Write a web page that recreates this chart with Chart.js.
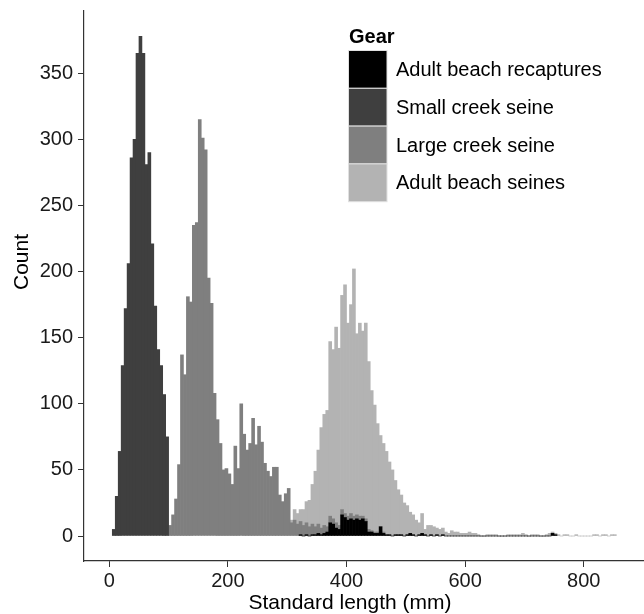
<!DOCTYPE html>
<html>
<head>
<meta charset="utf-8">
<script src="https://cdn.jsdelivr.net/npm/chart.js@4.4.0/dist/chart.umd.min.js"></script>
<style>
  html, body { margin: 0; padding: 0; background: #fff; }
</style>
</head>
<body>
<canvas id="myChart" width="644" height="614"></canvas>
<script>
// histogram bins are 5 mm wide; each series starts at its own bin
const binWidth = 5;

const gearNames = ["Adult beach recaptures", "Small creek seine", "Large creek seine", "Adult beach seines"];
const gearColors = ["#000000", "#3f3f3f", "#7f7f7f", "#b3b3b3"];

const recapturesStart = 320;
const recaptures = [1, 0, 1, 0, 1, 1, 2, 1, 2, 3, 10, 9, 6, 5, 16, 14, 12, 13, 12, 13,
    12, 13, 11, 3, 3, 2, 2, 7, 2, 1, 1, 0, 1, 1, 1, 0, 1, 2, 1, 0,
    1, 2, 1, 0, 1, 0, 1, 0, 1, 0, 0, 0, 0, 0, 0, 0, 0, 0, 0, 0,
    0, 0, 0, 0, 0, 0, 0, 0, 0, 0, 0, 0, 0, 0, 0, 0, 0, 0, 0, 0,
    0, 0, 0, 0, 0, 2, 1];

const smallCreekStart = 5;
const smallCreek = [5, 30, 64, 129, 172, 206, 286, 300, 365, 378, 365, 281, 290, 221, 174, 141, 129, 107, 75];

const largeCreekStart = 100;
const largeCreek = [8, 16, 28, 54, 137, 122, 181, 177, 235, 237, 315, 301, 292, 195, 176, 108, 88, 70, 50, 51,
    47, 39, 68, 51, 100, 77, 65, 70, 89, 69, 83, 71, 55, 49, 45, 52, 52, 31, 26, 32,
    36, 10, 12, 9, 10, 8, 9, 7, 8, 6, 7, 5, 6, 4, 5, 4, 4, 3, 4, 3,
    3, 4, 3, 3, 3, 2, 2, 2, 1, 1, 1, 0, 1];

const adultSeinesStart = 305;
const adultSeines = [2, 8, 8, 9, 12, 16, 20, 30, 42, 56, 76, 84, 88, 132, 128, 148, 134, 162, 173, 146,
    158, 187, 137, 146, 140, 148, 127, 106, 96, 82, 69, 67, 63, 55, 50, 41, 34, 30, 25, 22,
    16, 15, 12, 9, 15, 4, 8, 7, 7, 5, 5, 5, 3, 2, 4, 3, 3, 2, 2, 2,
    3, 2, 2, 1, 0, 0, 1, 1, 1, 1, 0, 0, 0, 1, 1, 1, 1, 1, 2, 1,
    0, 1, 1, 1, 0, 0, 1, 2, 1, 1, 1, 0, 1, 1, 0, 0, 1, 0, 0, 0,
    0, 0, 1, 1, 0, 1, 1, 0, 1, 1];

const xTicks = [0, 200, 400, 600, 800];
const yTicks = [0, 50, 100, 150, 200, 250, 300, 350];

const fontFamily = "'Liberation Sans', Arial, Helvetica, sans-serif";

function toPoints(start, counts) {
    return counts.map((c, i) => ({ x: start + i * binWidth + binWidth / 2, y: c }));
}

const seriesData = [
    toPoints(recapturesStart, recaptures),
    toPoints(smallCreekStart, smallCreek),
    toPoints(largeCreekStart, largeCreek),
    toPoints(adultSeinesStart, adultSeines)
];

// legend box and axis titles sit where ggplot put them
const gearLegend = {
    id: "gearLegend",
    afterDraw(chart) {
        const ctx = chart.ctx;
        ctx.save();
        ctx.fillStyle = "#000";
        ctx.textBaseline = "alphabetic";
        ctx.textAlign = "left";
        ctx.font = "bold 20px " + fontFamily;
        ctx.fillText("Gear", 349, 43);

        const keyX = 348.5, keyW = 38.5, keyH = 37.8, keyTop = 50.5;
        ctx.font = "20px " + fontFamily;
        ctx.textBaseline = "middle";
        chart.data.datasets.forEach((ds, i) => {
            const y = keyTop + i * keyH;
            ctx.fillStyle = ds.backgroundColor;
            ctx.fillRect(keyX, y, keyW, keyH);
            ctx.strokeStyle = "#e0e0e0";
            ctx.lineWidth = 1;
            ctx.strokeRect(keyX, y, keyW, keyH);
            ctx.fillStyle = "#000";
            ctx.fillText(ds.label, 396, y + keyH / 2 + 1);
        });

        ctx.textAlign = "center";
        ctx.textBaseline = "middle";
        ctx.font = "21px " + fontFamily;
        ctx.fillText("Standard length (mm)", 350, 603);

        ctx.translate(22, 262);
        ctx.rotate(-Math.PI / 2);
        ctx.fillText("Count", 0, 0);
        ctx.restore();
    }
};

let chart;

function initChart() {
    const ctx = document.getElementById("myChart").getContext("2d");
    chart = new Chart(ctx, {
        type: "bar",
        data: {
            datasets: gearNames.map((name, i) => ({
                label: name,
                data: seriesData[i],
                backgroundColor: gearColors[i],
                borderWidth: 0,
                barPercentage: 1,
                categoryPercentage: 1
            }))
        },
        options: {
            responsive: false,
            animation: false,
            layout: { padding: { top: 11, left: 0, right: 0, bottom: 0 } },
            plugins: {
                legend: { display: false },
                tooltip: { enabled: false }
            },
            scales: {
                x: {
                    type: "linear",
                    stacked: true,
                    offset: false,
                    min: -42.7,
                    max: 901.7,
                    afterBuildTicks: s => { s.ticks = xTicks.map(v => ({ value: v })); },
                    afterFit: s => { s.height = 53; s.paddingLeft = 0; s.paddingRight = 0; },
                    ticks: { color: "#1a1a1a", font: { family: fontFamily, size: 20 }, padding: 2, maxRotation: 0 },
                    grid: { drawOnChartArea: false, drawTicks: true, tickLength: 6, color: "#333", offset: false },
                    border: { display: true, color: "#333", width: 1.2 }
                },
                y: {
                    type: "linear",
                    stacked: true,
                    min: -18.9,
                    max: 397.1,
                    afterBuildTicks: s => { s.ticks = yTicks.map(v => ({ value: v })); },
                    afterFit: s => { s.width = 84; s.paddingTop = 0; s.paddingBottom = 0; },
                    ticks: { color: "#1a1a1a", font: { family: fontFamily, size: 20 }, padding: 5 },
                    grid: { drawOnChartArea: false, drawTicks: true, tickLength: 6, color: "#333" },
                    border: { display: true, color: "#333", width: 1.2 }
                }
            }
        },
        plugins: [gearLegend]
    });
}

document.addEventListener("DOMContentLoaded", function() {
    initChart();
});
</script>
</body>
</html>
